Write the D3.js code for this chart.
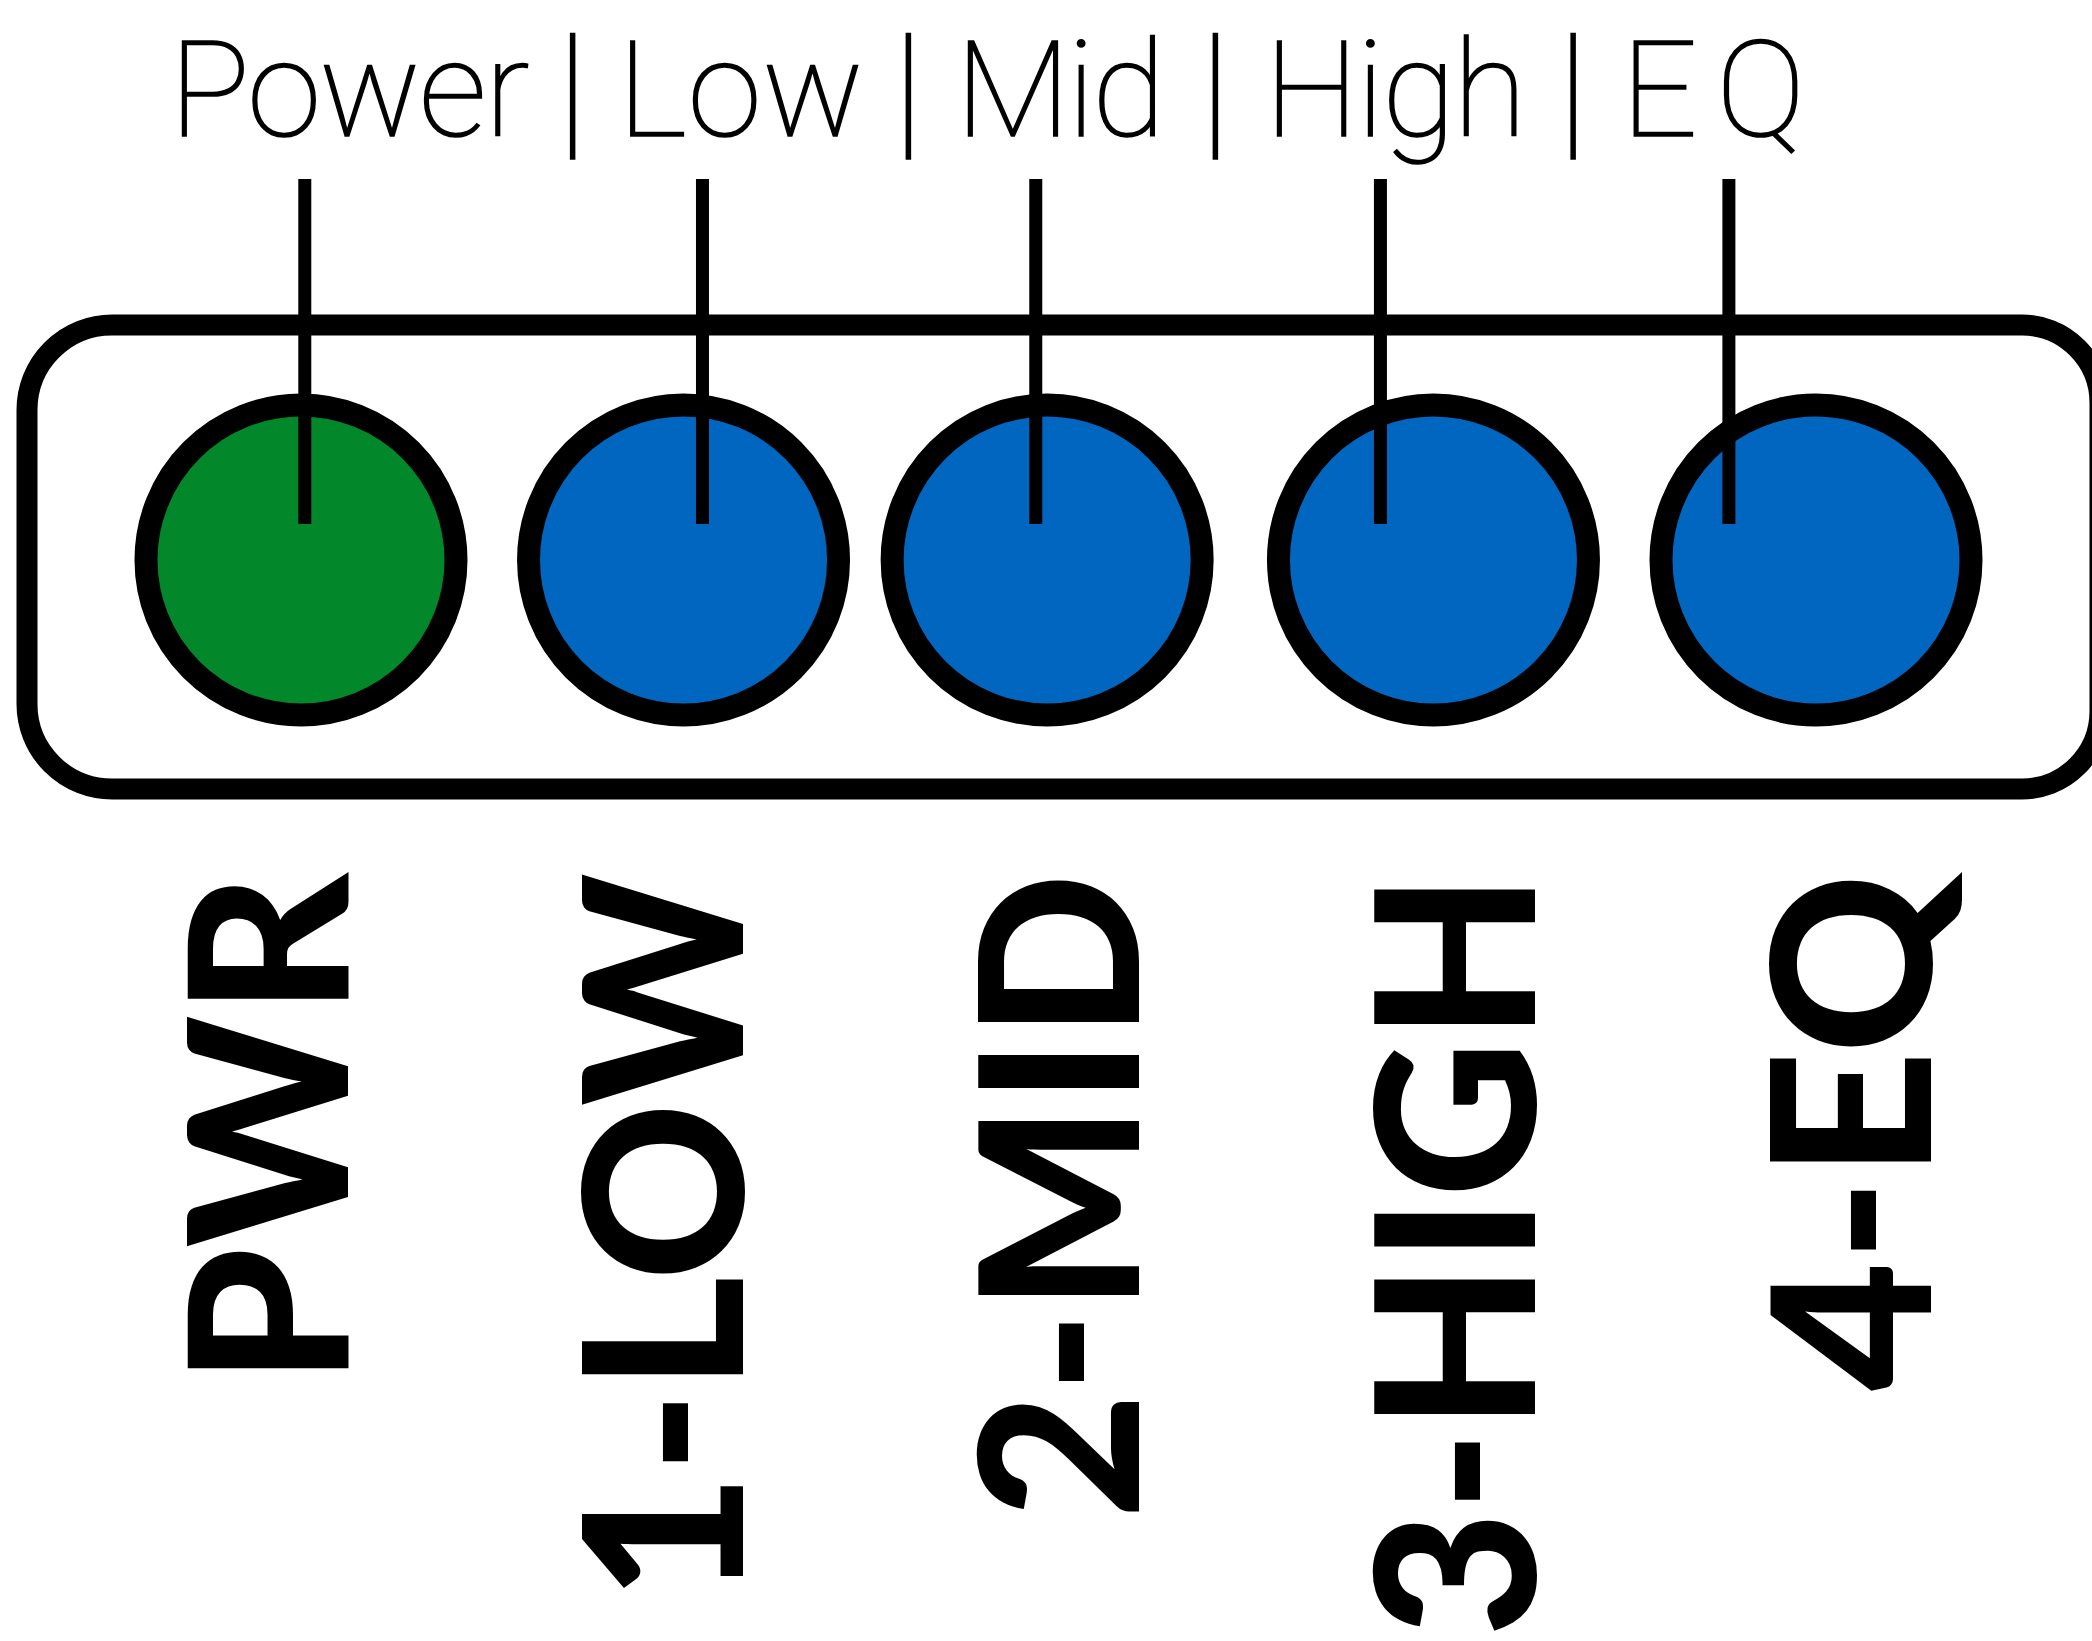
<!DOCTYPE html>
<html><head><meta charset="utf-8">
<script src="https://cdn.jsdelivr.net/npm/d3@7"></script>
<style>html,body{margin:0;padding:0;background:#fff;overflow:hidden}</style>
</head><body>
<svg id="c" width="2092" height="1641"></svg>
<script>
// ---- data ----
const channels = ["Power", "Low", "Mid", "High", "EQ"];
const labels = ["PWR", "1-LOW", "2-MID", "3-HIGH", "4-EQ"];
const ledKind = ["power", "band", "band", "band", "band"];
const ledPos = [0, 1.01, 1.97, 2.99, 4];            // LED centres, slot units
const leaderPos = [0.01, 1.06, 1.94, 2.85, 3.77];   // leader lines, slot units
const titleSegments = ["Power", "|", "Low", "|", "Mid", "|", "High", "|", "EQ"];
const titlePos = [0.128, 0.716, 1.161, 1.603, 2.005, 2.413, 2.890, 3.358, 3.729];
const titleWidths = [360, 0, 246, 0, 210, 0, 262, 0, 184];
const labelWidths = [512, 728, 646, 764, 518];

// ---- styles ----
const colors = { power: "#02872a", band: "#0066c0" };

const svg = d3.select("#c");
const W = 2092, H = 1641;

const x = d3.scaleLinear().domain([0, 4]).range([301, 1816]);
const xl = d3.scalePoint().domain(labels).range([268, 1851]);

// title
const title = svg.append("g");
title.selectAll("text").data(titleSegments).join("text")
  .attr("x", (d, i) => x(titlePos[i]))
  .attr("y", d => d === "|" ? 139 : 136)
  .attr("text-anchor", "middle")
  .attr("font-family", "Roboto, 'Helvetica Neue', sans-serif")
  .attr("font-weight", 100)
  .attr("font-size", d => d === "|" ? 149 : 134)
  .attr("fill", "#000")
  .attr("stroke", "#000")
  .attr("stroke-width", 1.6)
  .text(d => d)
  .each(function (d, i) {
    const target = titleWidths[i];
    if (!target || d.length < 2) return;
    const nat = this.getComputedTextLength();
    const ls = (target - nat) / (d.length - 1);
    d3.select(this)
      .attr("letter-spacing", ls)
      .attr("x", x(titlePos[i]) + ls / 2);
  });

// panel outline
const p = d3.path();
const L = 27, R = 2100, T = 325, B = 789, r1 = 85, r2 = 78;
p.moveTo(L + r1, T);
p.lineTo(R - r2, T);
p.arcTo(R, T, R, T + r2, r2);
p.lineTo(R, B - r2);
p.arcTo(R, B, R - r2, B, r2);
p.lineTo(L + r1, B);
p.arcTo(L, B, L, B - r1, r1);
p.lineTo(L, T + r1);
p.arcTo(L, T, L + r1, T, r1);
p.closePath();
svg.append("path").attr("d", p.toString())
  .attr("fill", "none").attr("stroke", "#000").attr("stroke-width", 21);

// LEDs
svg.append("g").selectAll("circle").data(channels).join("circle")
  .attr("cx", (d, i) => x(ledPos[i]))
  .attr("cy", 560)
  .attr("r", 155)
  .attr("fill", (d, i) => colors[ledKind[i]])
  .attr("stroke", "#000")
  .attr("stroke-width", 23);

// leader lines
svg.append("g").selectAll("line").data(channels).join("line")
  .attr("x1", (d, i) => x(leaderPos[i]))
  .attr("x2", (d, i) => x(leaderPos[i]))
  .attr("y1", 179).attr("y2", 524)
  .attr("stroke", "#000").attr("stroke-width", 13);

// rotated labels
svg.append("g").selectAll("text").data(labels).join("text")
  .attr("transform", d => `translate(${xl(d)},873) rotate(-90)`)
  .attr("dy", "0.36em")
  .attr("text-anchor", "end")
  .attr("font-family", "Lato, 'Open Sans', sans-serif")
  .attr("font-weight", 900)
  .attr("font-size", 221)
  .attr("textLength", (d, i) => labelWidths[i])
  .attr("lengthAdjust", "spacingAndGlyphs")
  .attr("fill", "#000")
  .text(d => d);
</script>
</body></html>
